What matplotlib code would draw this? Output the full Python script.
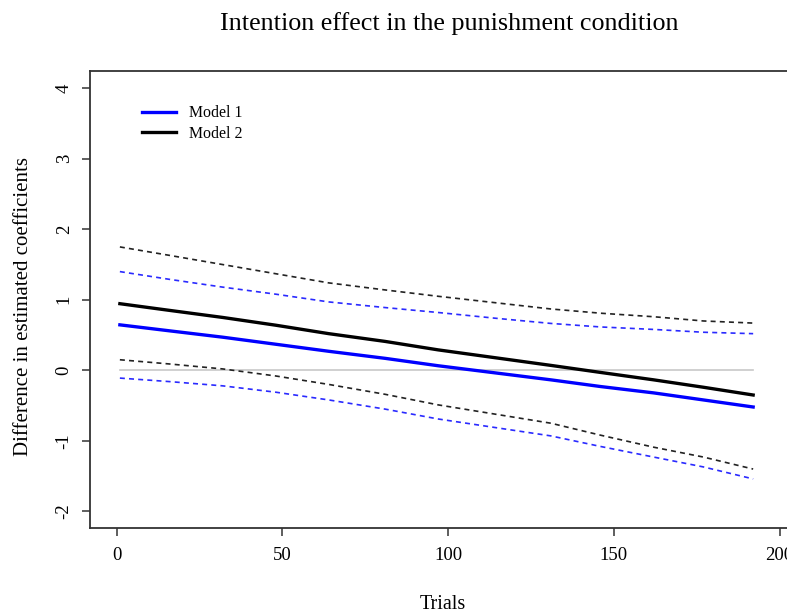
import matplotlib
matplotlib.use("Agg")
import matplotlib.pyplot as plt

# values (trial -> difference in estimated coefficients)
trials = [1, 16, 32, 48, 64, 81, 97, 114, 131, 146, 162, 177, 192]

model1_fit = [0.645, 0.56, 0.47, 0.37, 0.27, 0.17, 0.065, -0.035, -0.135, -0.23, -0.32, -0.42, -0.52]
model1_upper = [1.40, 1.29, 1.18, 1.08, 0.97, 0.89, 0.82, 0.74, 0.665, 0.615, 0.58, 0.54, 0.52]
model1_lower = [-0.11, -0.16, -0.22, -0.31, -0.42, -0.55, -0.69, -0.81, -0.93, -1.08, -1.23, -1.37, -1.54]

model2_fit = [0.945, 0.85, 0.75, 0.64, 0.52, 0.41, 0.29, 0.18, 0.07, -0.03, -0.135, -0.24, -0.35]
model2_upper = [1.75, 1.63, 1.50, 1.37, 1.24, 1.14, 1.05, 0.96, 0.87, 0.81, 0.76, 0.70, 0.67]
model2_lower = [0.15, 0.09, 0.02, -0.08, -0.20, -0.34, -0.49, -0.62, -0.75, -0.92, -1.09, -1.23, -1.40]

x_ticks = [0, 50, 100, 150, 200]
y_ticks = [-2, -1, 0, 1, 2, 3, 4]

plt.rcParams['font.family'] = ['Liberation Serif', 'DejaVu Serif']

fig = plt.figure(figsize=(7.87, 6.15), dpi=100)
ax = fig.add_axes([0.1144, 0.141, 0.91, 0.743])

# reference line at zero
ax.plot([trials[0], trials[-1]], [0, 0], color='#c8c8c8', lw=1.2)

dash = (0, (3, 2.5))
ax.plot(trials, model2_upper, color='#222222', lw=1.2, ls=dash)
ax.plot(trials, model2_lower, color='#222222', lw=1.2, ls=dash)
ax.plot(trials, model1_upper, color='#2a2aff', lw=1.2, ls=dash)
ax.plot(trials, model1_lower, color='#2a2aff', lw=1.2, ls=dash)

ax.plot(trials, model1_fit, color='blue', lw=2.4, label='Model 1')
ax.plot(trials, model2_fit, color='black', lw=2.4, label='Model 2')

ax.set_xlim(-8, 208)
ax.set_ylim(-2.24, 4.24)
ax.set_xticks(x_ticks)
ax.set_yticks(y_ticks)
ax.set_yticklabels([str(v) for v in y_ticks], rotation=90, va='center')

for s in ax.spines.values():
    s.set_color('#333333')
    s.set_linewidth(1.3)

ax.tick_params(axis='both', direction='out', length=5.5, width=1.1, color='#333333',
               labelsize=13.5)
ax.tick_params(axis='x', pad=8)
ax.tick_params(axis='y', pad=7)

ax.set_xlabel('Trials', fontsize=14.5)
ax.xaxis.set_label_coords(0.4925, -0.146)
ax.set_ylabel('Difference in estimated coefficients', fontsize=15)
ax.yaxis.set_label_coords(-0.08, 0.4845)

fig.text(0.571, 0.962, 'Intention effect in the punishment condition',
         fontsize=18.8, ha='center', va='center')

ax.legend(loc='upper left', bbox_to_anchor=(0.052, 0.957), frameon=False,
          fontsize=11.4, handlelength=2.2, handletextpad=0.8, labelspacing=0.3)

fig.savefig('out.png', dpi=100)
